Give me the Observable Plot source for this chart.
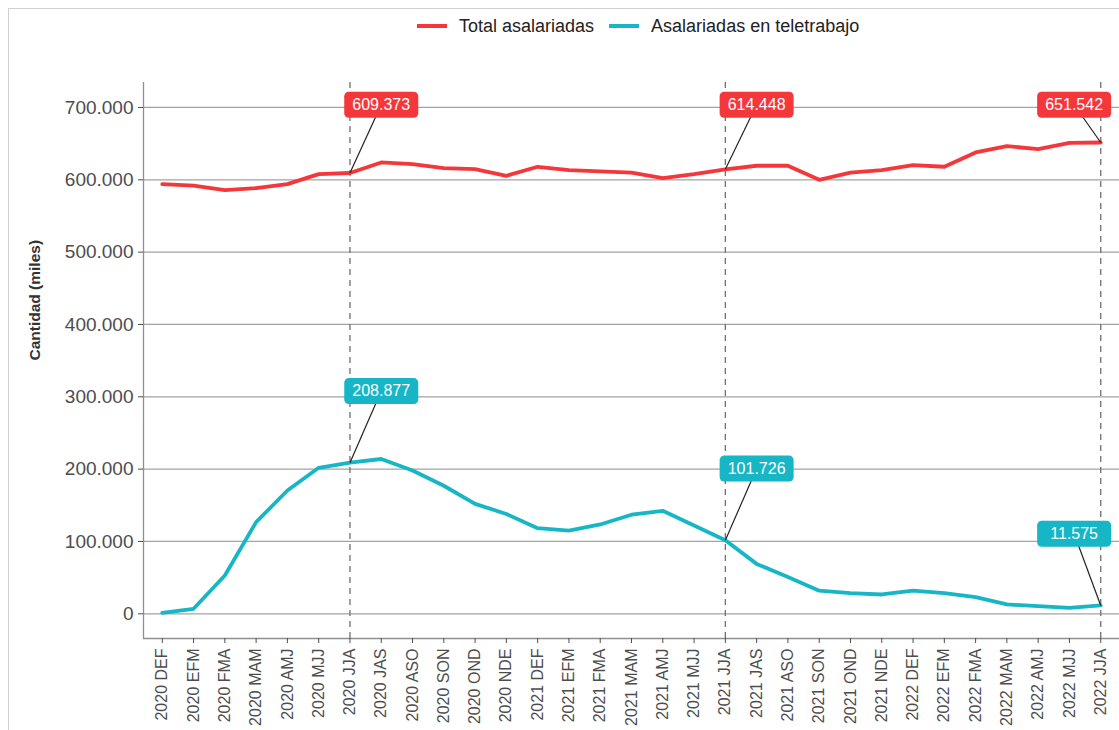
<!DOCTYPE html>
<html>
<head>
<meta charset="utf-8">
<script src="https://cdn.jsdelivr.net/npm/d3@7"></script>
<script src="https://cdn.jsdelivr.net/npm/@observablehq/plot@0.6"></script>
<style>
  html, body { margin: 0; padding: 0; background: #fff; }
  body { width: 1119px; height: 730px; position: relative; overflow: hidden; font-family: "Liberation Sans", Arial, sans-serif; }
  #frame { position: absolute; left: 8px; top: 8px; width: 1300px; height: 900px; border-left: 1.5px solid #d0d0d0; border-top: 1.5px solid #d0d0d0; }
  #legend { position: absolute; left: 417px; top: 0; height: 52px; display: flex; align-items: center; font-size: 18px; color: #222; }
  .sw { width: 30px; height: 4px; margin-right: 12px; }
  .item { display: flex; align-items: center; margin-right: 15px; }
  #chart { position: absolute; left: 0; top: 50px; }
</style>
</head>
<body>
<div id="frame"></div>
<div id="legend"></div>
<div id="chart"></div>
<script>
const periods = ["2020 DEF","2020 EFM","2020 FMA","2020 MAM","2020 AMJ","2020 MJJ","2020 JJA","2020 JAS","2020 ASO","2020 SON","2020 OND","2020 NDE",
  "2021 DEF","2021 EFM","2021 FMA","2021 MAM","2021 AMJ","2021 MJJ","2021 JJA","2021 JAS","2021 ASO","2021 SON","2021 OND","2021 NDE",
  "2022 DEF","2022 EFM","2022 FMA","2022 MAM","2022 AMJ","2022 MJJ","2022 JJA"];
const seriesNames = ["Total asalariadas", "Asalariadas en teletrabajo"];
const seriesColors = ["#f4373b", "#17b6c6"];
const total = [594000, 592000, 585700, 588500, 594000, 607800, 609373, 624000, 621700, 616000, 614700, 605500,
  618000, 613400, 611500, 610000, 602300, 607800, 614448, 619400, 619400, 600000, 610000, 613400,
  620300, 618000, 637800, 646500, 642400, 651000, 651542];
const tele = [1400, 6900, 53000, 126700, 170500, 201800, 208877, 214000, 198000, 177000, 152000, 138000,
  118400, 115000, 123500, 137000, 142400, 122000, 101726, 69000, 50700, 32000, 28600, 26700,
  32000, 28600, 23000, 12900, 10600, 8300, 11575];
const annotated = [6, 18, 30];
const yTicks = [0, 100000, 200000, 300000, 400000, 500000, 600000, 700000];

const loc = d3.formatLocale({decimal: ",", thousands: ".", grouping: [3], currency: ["", "€"]});
const fmt = loc.format(",d");

const rows = [];
periods.forEach((p, i) => {
  rows.push({i, v: total[i], series: seriesNames[0]});
  rows.push({i, v: tele[i], series: seriesNames[1]});
});

const xDomain = [-0.6, 30.6];
const yDomain = [-34150, 734500];
const topLabelY = 703700;
const teleLabelOffset = 99000;
const labels = [];
annotated.forEach(i => {
  const lx = Math.min(i + 1, 29.15);
  labels.push({i, v: total[i], lx, ly: topLabelY, series: seriesNames[0], label: fmt(total[i])});
  labels.push({i, v: tele[i], lx, ly: tele[i] + teleLabelOffset, series: seriesNames[1], label: fmt(tele[i])});
});

const roundBox = {
  draw(ctx) {
    const w = 37, h = 13, r = 4.5;
    ctx.moveTo(-w + r, -h);
    ctx.lineTo(w - r, -h); ctx.arcTo(w, -h, w, -h + r, r);
    ctx.lineTo(w, h - r); ctx.arcTo(w, h, w - r, h, r);
    ctx.lineTo(-w + r, h); ctx.arcTo(-w, h, -w, h - r, r);
    ctx.lineTo(-w, -h + r); ctx.arcTo(-w, -h, -w + r, -h, r);
    ctx.closePath();
  }
};

const legend = document.getElementById("legend");
seriesNames.forEach((n, k) => {
  const it = document.createElement("div");
  it.className = "item";
  it.innerHTML = `<div class="sw" style="background:${seriesColors[k]}"></div><span>${n}</span>`;
  legend.appendChild(it);
});

const chart = Plot.plot({
  width: 1119,
  height: 680,
  marginLeft: 143,
  marginRight: 0,
  marginTop: 32,
  marginBottom: 92,
  style: {fontFamily: "'Liberation Sans', Arial, sans-serif", background: "transparent"},
  x: {type: "linear", domain: xDomain},
  y: {domain: yDomain},
  color: {domain: seriesNames, range: seriesColors},
  marks: [
    Plot.gridY(yTicks, {stroke: "#a3a3a3", strokeOpacity: 1, strokeWidth: 1.3}),
    Plot.ruleX([xDomain[0]], {stroke: "#8f8f8f", strokeWidth: 1.3}),
    Plot.ruleY([yDomain[0]], {stroke: "#8f8f8f", strokeWidth: 1.3}),
    Plot.ruleX(annotated, {x: d => d, stroke: "#707070", strokeWidth: 1.3, strokeDasharray: "6,5"}),
    Plot.line(rows, {x: "i", y: "v", z: "series", stroke: "series", strokeWidth: 3.8, curve: "linear"}),
    Plot.link(labels, {x1: "i", y1: "v", x2: "lx", y2: "ly", stroke: "#222", strokeWidth: 1.2}),
    Plot.dot(labels, {x: "lx", y: "ly", fill: "series", symbol: roundBox, r: 10, stroke: null}),
    Plot.text(labels, {x: "lx", y: "ly", text: "label", fill: "white", fontSize: 16}),
    Plot.axisX({ticks: d3.range(periods.length), tickFormat: i => periods[i], tickRotate: -90,
      fontSize: 16, tickSize: 5, tickPadding: 5, color: "#4d4d4d", label: null}),
    Plot.axisY({ticks: yTicks, tickFormat: fmt, fontSize: 19, tickSize: 5, tickPadding: 5,
      color: "#4d4d4d", label: null}),
    Plot.text(["Cantidad (miles)"], {frameAnchor: "left", dx: -108, rotate: -90, fontWeight: "bold",
      fontSize: 15.5, fill: "#333"})
  ]
});
document.getElementById("chart").appendChild(chart);
</script>
</body>
</html>
